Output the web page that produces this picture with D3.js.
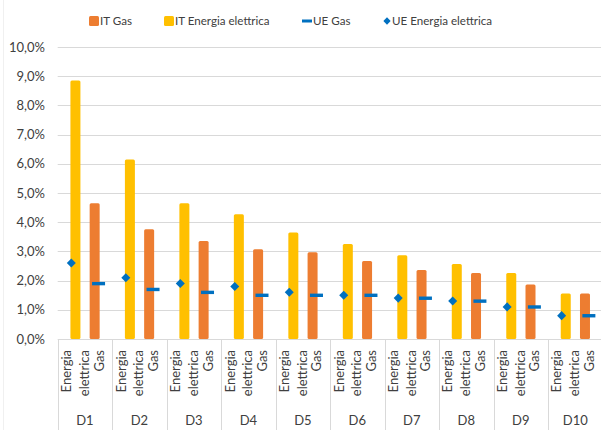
<!DOCTYPE html>
<html><head><meta charset="utf-8">
<script src="https://cdn.jsdelivr.net/npm/d3@7"></script>
<style>
body{margin:0;background:#fff;}
text{font-family:Lato,"Open Sans",sans-serif;fill:#404040;}
</style></head>
<body><svg id="c" width="601" height="430"></svg>
<script>
const deciles = ["D1","D2","D3","D4","D5","D6","D7","D8","D9","D10"];
const subcats = ["Energia elettrica","Gas"];
const itEnergia = [8.85,6.15,4.65,4.27,3.65,3.25,2.87,2.57,2.26,1.56];
const itGas     = [4.65,3.76,3.36,3.07,2.97,2.67,2.36,2.26,1.87,1.56];
const ueEnergia = [2.6,2.1,1.9,1.8,1.6,1.5,1.4,1.3,1.1,0.8];
const ueGas     = [1.9,1.7,1.6,1.5,1.5,1.5,1.4,1.3,1.1,0.8];
const yTicks = [0,1,2,3,4,5,6,7,8,9,10];
const legendItems = ["IT Gas","IT Energia elettrica","UE Gas","UE Energia elettrica"];

const colors = {"IT Gas":"#ED7D31","IT Energia elettrica":"#FFC000","UE Gas":"#0070C0","UE Energia elettrica":"#0070C0"};

const svg = d3.select("#c");
const pLeft = 57.7, pRight = 602.5, pTop = 47, pBottom = 339;

const x0 = d3.scaleBand().domain(deciles).range([pLeft,pRight]);
const x1 = d3.scaleBand().domain(subcats).range([0,x0.bandwidth()]);
const slot = d3.scalePoint().domain(["IT Gas","IT Energia elettrica"]).range([-3.9,4.1]);
const y = d3.scaleLinear().domain([0,10]).range([pBottom,pTop]);
const fmt = v => d3.format(".1f")(v).replace(".",",")+"%";

// faint chart border
svg.append("line").attr("x1",3.5).attr("x2",3.5).attr("y1",0).attr("y2",430).attr("stroke","#f0f0f0");

// gridlines
svg.append("g").selectAll("line").data(yTicks).join("line")
  .attr("x1",pLeft).attr("x2",pRight)
  .attr("y1",d=>Math.round(y(d))+0.5).attr("y2",d=>Math.round(y(d))+0.5)
  .attr("stroke","#d9d9d9").attr("stroke-width",1);

// y axis labels
const yAxis = d3.axisLeft(y).tickValues(yTicks).tickFormat(fmt).tickSize(0).tickPadding(0);
const gy = svg.append("g").attr("transform",`translate(45,0)`).call(yAxis);
gy.select(".domain").remove();
gy.selectAll("text").style("font-family","Lato,'Open Sans',sans-serif").style("font-size","13px").attr("fill","#404040");

// category axis separators
const sepX = deciles.map(d=>x0(d)).concat([pRight]);
svg.append("g").selectAll("line").data(sepX).join("line")
  .attr("x1",d=>Math.round(d)+0.5).attr("x2",d=>Math.round(d)+0.5)
  .attr("y1",pBottom).attr("y2",430)
  .attr("stroke","#d9d9d9");

const rows = deciles.map((d,i)=>({d,i}));

// bars
const barW = 10;
const gBars = svg.append("g");
gBars.selectAll("rect.en").data(rows).join("rect").attr("class","en")
  .attr("x",r=>x0(r.d)+x1("Energia elettrica")+x1.bandwidth()/2+slot("IT Energia elettrica")-barW/2)
  .attr("width",barW)
  .attr("y",r=>y(itEnergia[r.i])).attr("height",r=>y(0)-y(itEnergia[r.i]))
  .attr("rx",1.5).attr("fill",colors["IT Energia elettrica"]);
gBars.selectAll("rect.gas").data(rows).join("rect").attr("class","gas")
  .attr("x",r=>x0(r.d)+x1("Gas")+x1.bandwidth()/2+slot("IT Gas")-barW/2)
  .attr("width",barW)
  .attr("y",r=>y(itGas[r.i])).attr("height",r=>y(0)-y(itGas[r.i]))
  .attr("rx",1.5).attr("fill",colors["IT Gas"]);

// UE markers
const dia = d3.symbol().type(d3.symbolDiamond2).size(52);
svg.append("g").selectAll("path").data(rows).join("path")
  .attr("d",dia)
  .attr("transform",r=>`translate(${x0(r.d)+x1("Energia elettrica")+x1.bandwidth()/2},${y(ueEnergia[r.i])})`)
  .attr("fill",colors["UE Energia elettrica"]);
svg.append("g").selectAll("rect").data(rows).join("rect")
  .attr("x",r=>x0(r.d)+x1("Gas")+x1.bandwidth()/2-6.5)
  .attr("width",13)
  .attr("y",r=>y(ueGas[r.i])-1.6).attr("height",3.4)
  .attr("fill",colors["UE Gas"]);

// subcategory labels (rotated)
const gl = svg.append("g");
rows.forEach(r=>{
  subcats.forEach(s=>{
    const cx = x0(r.d)+x1(s)+x1.bandwidth()/2;
    const lines = s==="Gas" ? ["Gas"] : ["Energia","elettrica"];
    const lh = 17.6;
    lines.forEach((ln,k)=>{
      const xx = s==="Gas" ? cx+5 : cx - 0.2 + k*lh;
      gl.append("text").text(ln)
        .attr("transform",`translate(${xx},350) rotate(-90)`)
        .attr("text-anchor","end")
        .style("font-size","13px");
    });
  });
  gl.append("text").text(r.d)
    .attr("x",x0(r.d)+x0.bandwidth()/2).attr("y",425)
    .attr("text-anchor","middle").style("font-size","13px");
});

// legend
const legX = [89,164,302,381];
const lg = svg.append("g");
legendItems.forEach((name,i)=>{
  const gx = lg.append("g").attr("transform",`translate(${legX[i]},21)`);
  if(i<2){
    gx.append("rect").attr("x",0).attr("y",-5).attr("width",10).attr("height",10).attr("rx",1.5).attr("fill",colors[name]);
  } else if(i===2){
    gx.append("rect").attr("x",0).attr("y",-1.5).attr("width",10).attr("height",3).attr("fill",colors[name]);
  } else {
    gx.append("path").attr("d",d3.symbol().type(d3.symbolDiamond2).size(34)).attr("transform","translate(6,0)").attr("fill",colors[name]);
  }
  gx.append("text").text(name).attr("x",11).attr("y",4.3).style("font-size","11.6px");
});
</script></body></html>
